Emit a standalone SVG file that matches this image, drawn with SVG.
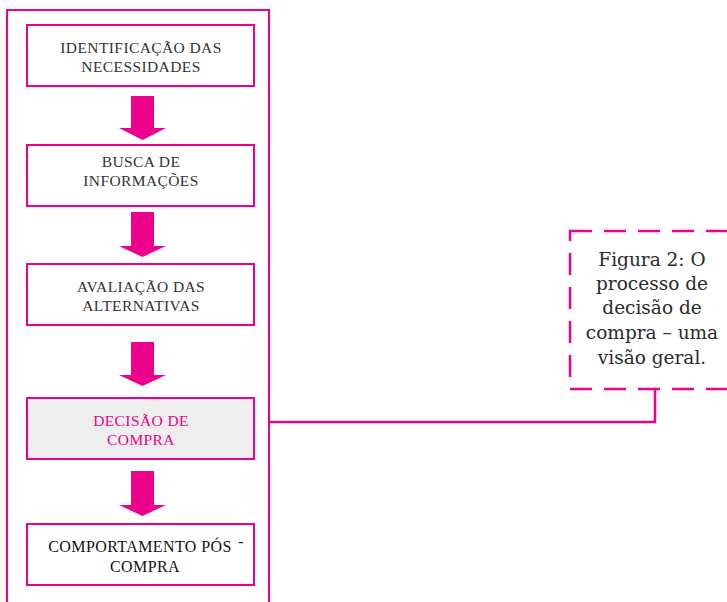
<svg xmlns="http://www.w3.org/2000/svg" width="727" height="602" viewBox="0 0 727 602">
  <style>
    .frame { fill: none; stroke: #ec008c; stroke-width: 2; }
    .box { fill: #ffffff; stroke: #ec008c; stroke-width: 2; }
    .box.active { fill: #eeeeee; }
    .lbl { font-family: 'Liberation Serif', 'Times New Roman', Times, serif; font-size: 15.5px; letter-spacing: 0.4px; fill: #333333; text-anchor: middle; }
    .lbl.active { fill: #ec008c; }
    .lbl.dark { fill: #111111; font-size: 16px; letter-spacing: 0.4px; }
    .arrow { fill: #ec008c; }
    .link { fill: none; stroke: #ec008c; stroke-width: 2.5; }
    .note { fill: #ffffff; stroke: #ec008c; stroke-width: 2.5; stroke-dasharray: 22 12; }
    .caption { font-family: 'DejaVu Serif', 'Liberation Serif', serif; font-size: 18.5px; fill: #2a2a2a; text-anchor: middle; }
  </style>

  <!-- enclosing frame of the process column -->
  <rect class="frame" x="7" y="10" width="262" height="600"/>

  <!-- step arrows -->
  <g id="arrows">
    <polygon class="arrow" points="131,96 154,96 154,128 166,128 142.5,140 119,128 131,128"/>
    <polygon class="arrow" points="131,212 154,212 154,246 166,246 142.5,257 119,246 131,246"/>
    <polygon class="arrow" points="131,342 154,342 154,375 166,375 142.5,386 119,375 131,375"/>
    <polygon class="arrow" points="131,471 154,471 154,505 166,505 142.5,516 119,505 131,505"/>
  </g>

  <g id="step-necessidades">
    <rect class="box" x="27" y="25" width="227" height="61"/>
    <text class="lbl" x="141" y="53">IDENTIFICAÇÃO DAS</text>
    <text class="lbl" x="141" y="72">NECESSIDADES</text>
  </g>

  <g id="step-busca">
    <rect class="box" x="27" y="145" width="227" height="61"/>
    <text class="lbl" x="141" y="167">BUSCA DE</text>
    <text class="lbl" x="141" y="186">INFORMAÇÕES</text>
  </g>

  <g id="step-avaliacao">
    <rect class="box" x="27" y="264" width="227" height="61"/>
    <text class="lbl" x="141" y="292">AVALIAÇÃO DAS</text>
    <text class="lbl" x="141" y="311">ALTERNATIVAS</text>
  </g>

  <g id="step-decisao">
    <rect class="box active" x="27" y="398" width="227" height="61"/>
    <text class="lbl active" x="141" y="426">DECISÃO DE</text>
    <text class="lbl active" x="141" y="445">COMPRA</text>
  </g>

  <g id="step-pos-compra">
    <rect class="box" x="27" y="524" width="227" height="61"/>
    <text class="lbl dark" x="140" y="552">COMPORTAMENTO PÓS</text>
    <text class="lbl dark" x="241" y="547">-</text>
    <text class="lbl dark" x="145" y="572">COMPRA</text>
  </g>

  <!-- connector from the column to the caption note -->
  <g id="connectors">
    <polyline class="link" points="269,422 655,422 655,389"/>
  </g>

  <g id="caption-note">
    <rect class="note" x="570" y="231" width="170" height="158"/>
    <text class="caption" x="652" y="266">Figura 2: O</text>
    <text class="caption" x="652" y="290">processo de</text>
    <text class="caption" x="652" y="314">decisão de</text>
    <text class="caption" x="652" y="339">compra – uma</text>
    <text class="caption" x="652" y="364">visão geral.</text>
  </g>
</svg>
